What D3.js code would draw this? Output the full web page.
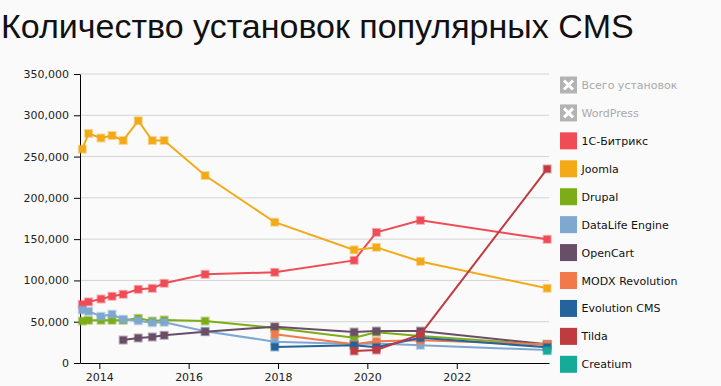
<!DOCTYPE html>
<html>
<head>
<meta charset="utf-8">
<script src="https://cdn.jsdelivr.net/npm/d3@7"></script>
<style>
  body { margin: 0; background: #fafafa; }
  svg { display: block; }
  .axis text { font-family: "DejaVu Sans", Verdana, sans-serif; font-size: 11px; fill: #222; }
  .legend text { font-family: "DejaVu Sans", Verdana, sans-serif; font-size: 11px; }
</style>
</head>
<body>
<svg width="721" height="386"></svg>
<script>
// dates of the measurements
const dates = ["2013-08-15", "2013-10-05", "2014-01-15", "2014-04-15", "2014-07-15", "2014-11-15",
    "2015-03-10", "2015-06-15", "2016-05-15", "2017-12-05", "2019-09-15", "2020-03-15",
    "2021-03-10", "2024-01-10"];

const bitrix    = [71000, 74000, 77500, 80800, 83200, 89200, 90400, 96500, 107400, 109800, 124300, 158200, 172800, 149800];
const joomla    = [259000, 278000, 272500, 275500, 269500, 293500, 269500, 269500, 227000, 170500, 137000, 140000, 123000, 90500];
const drupal    = [50800, 51700, 51700, 51700, 51700, 54100, 50800, 52100, 50800, 42500, 30600, 37200, 32700, 21800];
const datalife  = [64200, 62600, 56500, 59000, 52900, 51200, 48800, 49300, 38500, 25800, 23000, 23500, 21400, 15700];
const opencart  = [null, null, null, null, 27800, 30300, 31500, 33500, 37900, 43900, 37500, 38700, 38700, 22600];
const modx      = [null, null, null, null, null, null, null, null, null, 34700, 22600, 26200, 27500, 22600];
const evolution = [null, null, null, null, null, null, null, null, null, 19400, 21400, 19000, 30500, 19000];
const tilda     = [null, null, null, null, null, null, null, null, null, null, 14500, 15700, 34700, 235000];
const creatium  = [null, null, null, null, null, null, null, null, null, null, null, null, null, 14900];

const hiddenNames = ["Всего установок", "WordPress"];
const seriesNames = ["1С-Битрикс", "Joomla", "Drupal", "DataLife Engine", "OpenCart", "MODX Revolution", "Evolution CMS", "Tilda", "Creatium"];
const seriesValues = [bitrix, joomla, drupal, datalife, opencart, modx, evolution, tilda, creatium];
const colors = ["#f04c56", "#f2aa17", "#7cad17", "#7fa8d0", "#684e66", "#f27a4a", "#24639c", "#bf3b40", "#16aa98"];

const yTicks = [0, 50000, 100000, 150000, 200000, 250000, 300000, 350000];
const xTicks = ["2014-01-01", "2016-01-01", "2018-01-01", "2020-01-01", "2022-01-01"];

const parse = d3.timeParse("%Y-%m-%d");
const svg = d3.select("svg");
const margin = { top: 74, left: 80, right: 172, bottom: 23 };
const width = 721, height = 386;

const x = d3.scaleTime()
    .domain([parse("2013-07-27"), parse("2024-01-25")])
    .range([margin.left, width - margin.right]);
const y = d3.scaleLinear().domain([0, 350000]).range([height - margin.bottom, margin.top]);

// title
svg.append("text")
    .attr("x", 1).attr("y", 38)
    .style("font-family", "'Liberation Sans', Arial, sans-serif")
    .style("font-size", "34px")
    .attr("fill", "#111")
    .text("Количество установок популярных CMS");

// grid
svg.append("g").selectAll("line")
    .data(yTicks.slice(1))
    .join("line")
    .attr("x1", margin.left).attr("x2", width - margin.right)
    .attr("y1", d => y(d)).attr("y2", d => y(d))
    .attr("stroke", "#d4d4d4");

svg.append("g").attr("class", "axis")
    .attr("transform", `translate(${margin.left},0)`)
    .call(d3.axisLeft(y).tickValues(yTicks).tickFormat(d3.format(",")).tickSizeOuter(0))
    .call(g => g.selectAll("text").attr("x", -11));

svg.append("g").attr("class", "axis")
    .attr("transform", `translate(0,${height - margin.bottom})`)
    .call(d3.axisBottom(x).tickValues(xTicks.map(parse)).tickFormat(d3.timeFormat("%Y")).tickSizeOuter(0))
    .call(g => g.selectAll("text").attr("y", 10));

// series
const line = d3.line()
    .defined(d => d.v != null)
    .x(d => x(d.date))
    .y(d => y(d.v));

seriesValues.forEach((vals, i) => {
    const data = vals.map((v, j) => ({ date: parse(dates[j]), v: v }));
    svg.append("path")
        .datum(data)
        .attr("fill", "none")
        .attr("stroke", colors[i])
        .attr("stroke-width", 2)
        .attr("d", line);
    svg.append("g").selectAll("rect")
        .data(data.filter(d => d.v != null))
        .join("rect")
        .attr("x", d => x(d.date) - 3.5)
        .attr("y", d => y(d.v) - 3.5)
        .attr("width", 7).attr("height", 7)
        .attr("fill", colors[i])
        .attr("stroke", colors[i])
        .attr("stroke-opacity", 0.45)
        .attr("stroke-width", 2);
});

// legend
const legend = svg.append("g").attr("class", "legend");
const rowY = i => 85 + i * 27.93;

hiddenNames.forEach((name, i) => {
    const g = legend.append("g").attr("transform", `translate(560,${rowY(i)})`);
    g.append("rect").attr("x", 0).attr("y", -8.5).attr("width", 17).attr("height", 17).attr("fill", "#b3b3b3");
    g.append("path").attr("d", "M4,-4.5L13,4.5M13,-4.5L4,4.5")
        .attr("stroke", "#fff").attr("stroke-width", 3);
    g.append("text").attr("x", 21.5).attr("y", 4).attr("fill", "#a9a9a9").text(name);
});

seriesNames.forEach((name, i) => {
    const g = legend.append("g").attr("transform", `translate(560,${rowY(i + 2)})`);
    g.append("rect").attr("x", 0).attr("y", -8.5).attr("width", 17).attr("height", 17).attr("fill", colors[i]);
    g.append("text").attr("x", 21.5).attr("y", 4).attr("fill", "#111").text(name);
});
</script>
</body>
</html>
